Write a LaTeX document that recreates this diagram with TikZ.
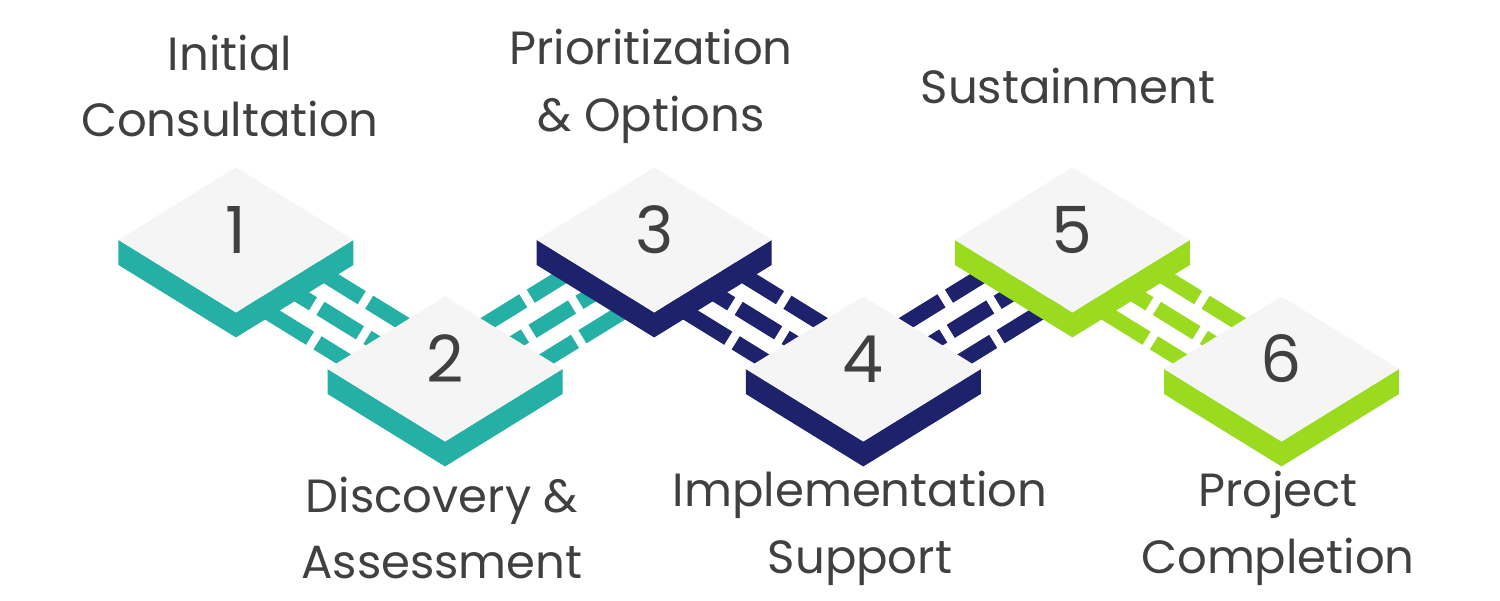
\documentclass[tikz,border=0pt]{standalone}
\usepackage{fontspec}
\setmainfont{Poppins}
\definecolor{teal}{HTML}{25B0A6}
\definecolor{navy}{HTML}{1E216B}
\definecolor{lime}{HTML}{9ADB1F}
\definecolor{face}{HTML}{F5F5F5}
\definecolor{ink}{HTML}{404040}
\begin{document}
\begin{tikzpicture}[x=0.02cm,y=-0.02cm,
  lbl/.style={text=ink,font=\fontsize{26.5}{38}\selectfont,align=center},
  num/.style={text=ink,font=\fontsize{37}{40}\selectfont},
  gap/.style={white,line width=0.17cm}]
\useasboundingbox[fill=white] (0,0) rectangle (1500,600);
\newcommand\connA[3]{%
  \foreach \c/\gs in {0.275/{1.93},-0.225/{1.6,2.4},-0.725/{2.05}}{%
    \fill[#3] (#1,#2+\c-0.125)--(#1+3.56,#2+\c-0.125)--(#1+3.56,#2+\c+0.125)--(#1,#2+\c+0.125)--cycle;
    \foreach \g in \gs {\draw[gap] (#1+\g+0.09,#2+\c-0.2)--(#1+\g-0.09,#2+\c+0.2);}
  }}
\newcommand\connB[3]{%
  \foreach \c/\gs in {0.725/{1.55},0.225/{1.2,2.0},-0.275/{1.67}}{%
    \fill[#3] (#1+\c-0.125,#2)--(#1+\c-0.125,#2+3.56)--(#1+\c+0.125,#2+3.56)--(#1+\c+0.125,#2)--cycle;
    \foreach \g in \gs {\draw[gap] (#1+\c-0.2,#2+\g+0.09)--(#1+\c+0.2,#2+\g-0.09);}
  }}
\newcommand\tile[5]{%
  \fill[#3] (#1-1,#2-1)--(#1+1,#2-1)--(#1+1,#2+1)--([yshift=-0.5cm]#1+1,#2+1)--([yshift=-0.5cm]#1+1,#2-1)--([yshift=-0.5cm]#1-1,#2-1)--cycle;
  \fill[face] (#1-1,#2-1)--(#1+1,#2-1)--(#1+1,#2+1)--(#1-1,#2+1)--cycle;
  \node[num] (#4) at ([yshift=0.2cm]#1,#2) {#5};}
\begin{scope}[shift={(4.72cm,-4.8cm)},x={(1.175cm,-0.725cm)},y={(1.175cm,0.725cm)}]
  \connA{0}{0}{teal}
  \connB{3.56}{0}{teal}
  \connA{3.56}{3.56}{navy}
  \connB{7.12}{3.56}{navy}
  \connA{7.12}{7.12}{lime}
  \tile{0}{0}{teal}{t1}{1}
  \tile{3.56}{0}{teal}{t2}{2}
  \tile{3.56}{3.56}{navy}{t3}{3}
  \tile{7.12}{3.56}{navy}{t4}{4}
  \tile{7.12}{7.12}{lime}{t5}{5}
  \tile{10.68}{7.12}{lime}{t6}{6}
\end{scope}
\node[lbl] (l1) at (230,86) {Initial\\Consultation};
\node[lbl] (l3) at (651,86) {Prioritization\\\& Options};
\node[lbl] (l5) at (1068,86) {Sustainment};
\node[lbl] (l2) at (442,528) {Discovery \&\\Assessment};
\node[lbl] (l4) at (860,528) {Implementation\\Support};
\node[lbl] (l6) at (1278,528) {Project\\Completion};
\end{tikzpicture}
\end{document}
